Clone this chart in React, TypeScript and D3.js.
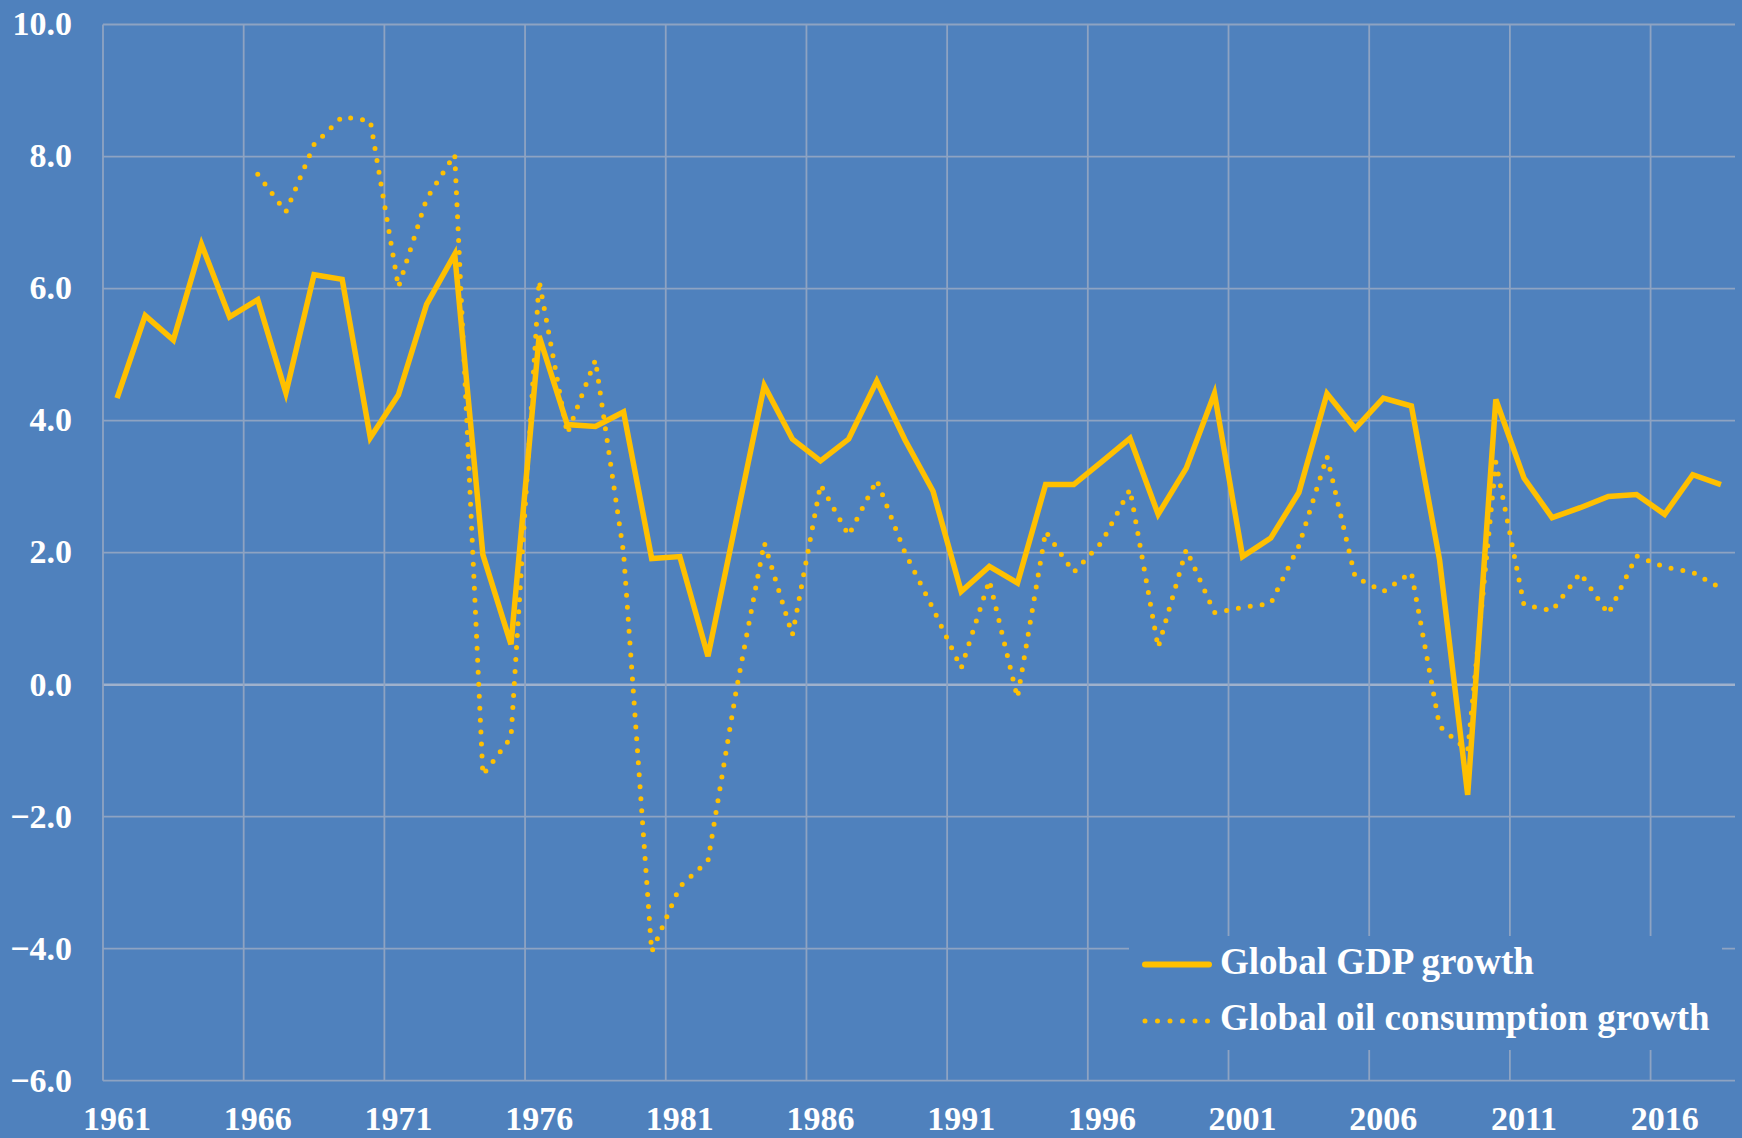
import { useEffect, useRef } from 'react';
import * as d3 from 'd3';

const years = d3.range(1961, 2019);

const gdpGrowth = [
  4.34, 5.59, 5.22, 6.67, 5.57, 5.83, 4.42, 6.21, 6.14, 3.74,
  4.39, 5.76, 6.52, 1.97, 0.61, 5.28, 3.94, 3.91, 4.13, 1.91,
  1.94, 0.43, 2.48, 4.53, 3.72, 3.39, 3.72, 4.6, 3.71, 2.93,
  1.41, 1.79, 1.54, 3.03, 3.03, 3.38, 3.73, 2.58, 3.28, 4.41,
  1.94, 2.22, 2.91, 4.41, 3.88, 4.34, 4.22, 1.89, -1.67, 4.32,
  3.13, 2.53, 2.68, 2.85, 2.88, 2.58, 3.18, 3.03,
];

// no oil data before 1966
const oilGrowth: (number | null)[] = [
  null, null, null, null, null, 7.73, 7.16, 8.18, 8.6, 8.54,
  6.02, 7.36, 8.03, -1.37, -0.8, 6.12, 3.8, 4.92, 2.0, -4.05,
  -3.06, -2.67, -0.1, 2.15, 0.75, 3.03, 2.26, 3.1, 2.0, 1.15,
  0.25, 1.58, -0.2, 2.32, 1.7, 2.16, 2.96, 0.56, 2.05, 1.09,
  1.17, 1.23, 2.1, 3.46, 1.63, 1.41, 1.7, -0.63, -1.0, 3.37,
  1.21, 1.12, 1.69, 1.07, 1.95, 1.78, 1.7, 1.46,
];

const yTicks = [-6, -4, -2, 0, 2, 4, 6, 8, 10];
const labelYears = years.filter((y) => (y - 1961) % 5 === 0);

const seriesNames = ['Global GDP growth', 'Global oil consumption growth'];

const App = () => {
  const chartRef = useRef<SVGSVGElement>(null);

  useEffect(() => {
    if (!chartRef.current) return;
    const width = 1742;
    const height = 1138;
    const bg = '#4f81bd';
    const gold = '#ffc000';
    const grid = '#8ea3c2';
    const font = '"Liberation Serif", "Times New Roman", serif';

    const svg = d3.select(chartRef.current);
    svg.selectAll('*').remove();
    svg.attr('width', width).attr('height', height);

    svg.append('rect').attr('width', width).attr('height', height).attr('fill', bg);

    const x = d3.scaleBand<number>().domain(years).range([103, 1735]).padding(0);
    const y = d3.scaleLinear().domain([-6, 10]).range([1080.7, 24.5]);
    const cx = (yr: number) => (x(yr) ?? 0) + x.bandwidth() / 2;

    // gridlines
    const g = svg.append('g');
    g.selectAll('line.h')
      .data(yTicks)
      .join('line')
      .attr('class', 'h')
      .attr('x1', 103)
      .attr('x2', 1735)
      .attr('y1', (d) => y(d))
      .attr('y2', (d) => y(d))
      .attr('stroke', (d) => (d === 0 ? '#9fb1cc' : grid))
      .attr('stroke-width', (d) => (d === 0 ? 2.5 : 1.8));

    g.selectAll('line.v')
      .data(labelYears)
      .join('line')
      .attr('class', 'v')
      .attr('x1', (d) => x(d)!)
      .attr('x2', (d) => x(d)!)
      .attr('y1', y(10))
      .attr('y2', y(-6))
      .attr('stroke', grid)
      .attr('stroke-width', 1.8);

    // y labels
    svg.append('g')
      .selectAll('text')
      .data(yTicks)
      .join('text')
      .attr('x', 72)
      .attr('y', (d) => y(d))
      .attr('dy', '0.32em')
      .attr('text-anchor', 'end')
      .attr('fill', '#fff')
      .attr('font-family', font)
      .attr('font-weight', 'bold')
      .attr('font-size', 34)
      .text((d) => d3.format('.1f')(d));

    // x labels
    svg.append('g')
      .selectAll('text')
      .data(labelYears)
      .join('text')
      .attr('x', (d) => cx(d))
      .attr('y', 1130)
      .attr('text-anchor', 'middle')
      .attr('fill', '#fff')
      .attr('font-family', font)
      .attr('font-weight', 'bold')
      .attr('font-size', 34)
      .text((d) => String(d));

    const line = d3.line<[number, number | null]>()
      .defined((d) => d[1] !== null)
      .x((d) => cx(d[0]))
      .y((d) => y(d[1] as number));

    svg.append('path')
      .datum(years.map((yr, i) => [yr, oilGrowth[i]] as [number, number | null]))
      .attr('fill', 'none')
      .attr('stroke', gold)
      .attr('stroke-width', 5)
      .attr('stroke-linecap', 'round')
      .attr('stroke-linejoin', 'round')
      .attr('stroke-dasharray', '0 12')
      .attr('d', line);

    svg.append('path')
      .datum(years.map((yr, i) => [yr, gdpGrowth[i]] as [number, number | null]))
      .attr('fill', 'none')
      .attr('stroke', gold)
      .attr('stroke-width', 5.5)
      .attr('stroke-linejoin', 'miter')
      .attr('d', line);

    // legend
    const legend = svg.append('g');
    legend.append('rect')
      .attr('x', 1129)
      .attr('y', 936)
      .attr('width', 593)
      .attr('height', 114)
      .attr('fill', bg);

    const rows = legend.selectAll('g')
      .data(seriesNames)
      .join('g')
      .attr('transform', (_, i) => `translate(0,${i === 0 ? 964.5 : 1021})`);

    rows.append('line')
      .attr('x1', 1145)
      .attr('x2', 1209)
      .attr('stroke', gold)
      .attr('stroke-width', (_, i) => (i === 0 ? 6 : 5))
      .attr('stroke-linecap', 'round')
      .attr('stroke-dasharray', (_, i) => (i === 0 ? null : '0 12.5'));

    rows.append('text')
      .attr('x', 1220)
      .attr('y', 9)
      .attr('fill', '#fff')
      .attr('font-family', font)
      .attr('font-weight', 'bold')
      .attr('font-size', 37)
      .text((d) => d);
  }, []);

  return (
    <svg
      ref={chartRef}
      style={{ position: 'absolute', left: 0, top: 0, display: 'block' }}
    />
  );
};

export default App;
